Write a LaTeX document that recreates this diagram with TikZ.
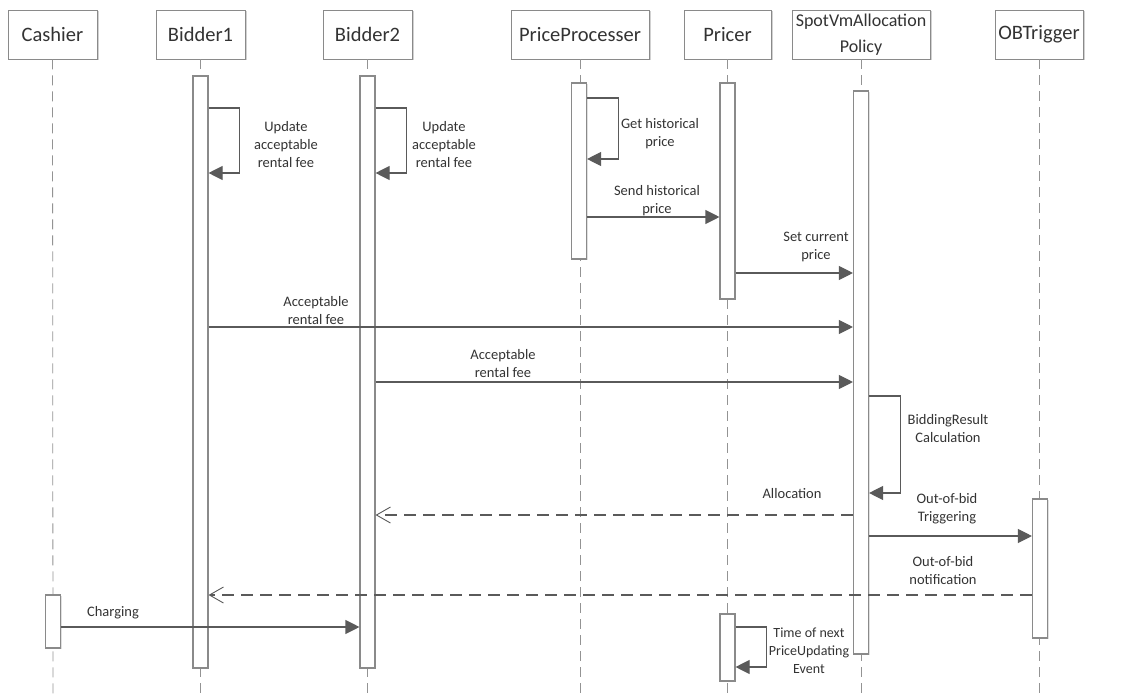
\documentclass[tikz,border=0pt]{standalone}
\usepackage{fontspec}
\setmainfont{Carlito}
\usetikzlibrary{arrows.meta,shadows}
\definecolor{linegray}{HTML}{5A5A5A}
\definecolor{boxgray}{HTML}{8A8A8A}
\definecolor{txtgray}{HTML}{333333}
\begin{document}
\begin{tikzpicture}[x=1pt,y=-1pt,
  head/.style={draw=boxgray, fill=white, line width=0.9pt, minimum height=49pt, inner sep=0pt,
    font=\fontsize{20.5}{26}\selectfont, text=txtgray, align=center,
    drop shadow={shadow xshift=1.5pt,shadow yshift=-1.5pt,fill=black!18,opacity=1}},
  bar/.style={draw=boxgray, fill=white, line width=1.1pt, minimum width=15pt, inner sep=0pt,
    drop shadow={shadow xshift=1pt,shadow yshift=-1pt,fill=black!12,opacity=1}},
  life/.style={draw=gray!85, line width=0.8pt, dash pattern=on 10pt off 6pt},
  msg/.style={draw=linegray, line width=1.1pt, -{Triangle[length=14pt,width=14pt]}},
  ret/.style={draw=linegray, line width=1.6pt, dash pattern=on 12pt off 7pt,
    -{Straight Barb[length=14pt,width=16pt,line width=0.9pt]}},
  lbl/.style={font=\fontsize{14.5}{18}\selectfont, text=txtgray, align=center, inner sep=0pt}
]
\useasboundingbox (0,0) rectangle (1137,695);
% headers
\node[head, minimum width=89pt] (cash) at (52.5,34.5) {Cashier};
\node[head, minimum width=89pt] (bid1) at (200.5,34.5) {Bidder1};
\node[head, minimum width=89pt] (bid2) at (367.5,34.5) {Bidder2};
\node[head, minimum width=138pt] (pp) at (580,34.5) {PriceProcesser};
\node[head, minimum width=87pt] (pr) at (727.5,34.5) {Pricer};
\node[head, minimum width=138pt, font=\fontsize{18}{26}\selectfont] (sv) at (861,34.5) {SpotVmAllocation\\Policy};
\node[head, minimum width=88pt] (ob) at (1039,34.5) {OBTrigger};
% lifeline ends
\coordinate (cashend) at (53,695);
\coordinate (bid1end) at (200.5,695);
\coordinate (bid2end) at (367.5,695);
\coordinate (ppend) at (580,695);
\coordinate (prend) at (727.5,695);
\coordinate (svend) at (861,695);
\coordinate (obend) at (1039,695);
% lifelines
\draw[life] (cash.south) -- (cashend);
\draw[life] (bid1.south) -- (bid1end);
\draw[life] (bid2.south) -- (bid2end);
\draw[life] (pp.south) -- (ppend);
\draw[life] (pr.south) -- (prend);
\draw[life] (sv.south) -- (svend);
\draw[life] (ob.south) -- (obend);
% activation bars
\node[bar, minimum height=53pt] (cashbar) at (53,621.5) {};
\node[bar, minimum height=592pt] (b1bar) at (200.5,372) {};
\node[bar, minimum height=592pt] (b2bar) at (367.5,372) {};
\node[bar, minimum height=176pt] (ppbar) at (579,171) {};
\node[bar, minimum height=216pt] (prbar) at (727.5,191) {};
\node[bar, minimum height=67pt] (prbar2) at (727.5,647.5) {};
\node[bar, minimum height=563pt] (svbar) at (861,372.5) {};
\node[bar, minimum height=139pt] (obbar) at (1040,568.5) {};
% self loops
\draw[msg] (b1bar.east |- 0,108) -- ++(31,0) |- (b1bar.east |- 0,173);
\node[lbl] (l1) at (286,145) {Update\\acceptable\\rental fee};
\draw[msg] (b2bar.east |- 0,108) -- ++(31,0) |- (b2bar.east |- 0,173);
\node[lbl] (l2) at (444,145) {Update\\acceptable\\rental fee};
\draw[msg] (ppbar.east |- 0,98) -- ++(31,0) |- (ppbar.east |- 0,159);
\node[lbl] (l3) at (660,134) {Get historical\\price};
% messages
\draw[msg] (ppbar.east |- 0,217) -- (prbar.west |- 0,217);
\node[lbl] (l4) at (657,201) {Send historical\\price};
\draw[msg] (prbar.east |- 0,273) -- (svbar.west |- 0,273);
\node[lbl] (l5) at (816,247) {Set current\\price};
\draw[msg] (b1bar.east |- 0,327) -- (svbar.west |- 0,327);
\node[lbl] (l6) at (316,311) {Acceptable\\rental fee};
\draw[msg] (b2bar.east |- 0,382) -- (svbar.west |- 0,382);
\node[lbl] (l7) at (503,364) {Acceptable\\rental fee};
\draw[msg] (svbar.east |- 0,396) -- ++(31,0) |- (svbar.east |- 0,493);
\node[lbl] (l8) at (948,429) {BiddingResult\\Calculation};
\draw[ret] (svbar.west |- 0,515) -- (b2bar.east |- 0,515);
\node[lbl] (l9) at (792,494) {Allocation};
\draw[msg] (svbar.east |- 0,536) -- (obbar.west |- 0,536);
\node[lbl] (l10) at (947,509) {Out-of-bid\\Triggering};
\draw[ret] (obbar.west |- 0,595) -- (b1bar.east |- 0,595);
\node[lbl] (l11) at (943,571) {Out-of-bid\\notification};
\draw[msg] (cashbar.east |- 0,627) -- (b2bar.west |- 0,627);
\node[lbl] (l12) at (113,613) {Charging};
\draw[msg] (prbar2.east |- 0,627) -- ++(31,0) |- (prbar2.east |- 0,667);
\node[lbl, font=\fontsize{14}{18}\selectfont] (l13) at (809,651) {Time of next\\PriceUpdating\\Event};
\end{tikzpicture}
\end{document}
